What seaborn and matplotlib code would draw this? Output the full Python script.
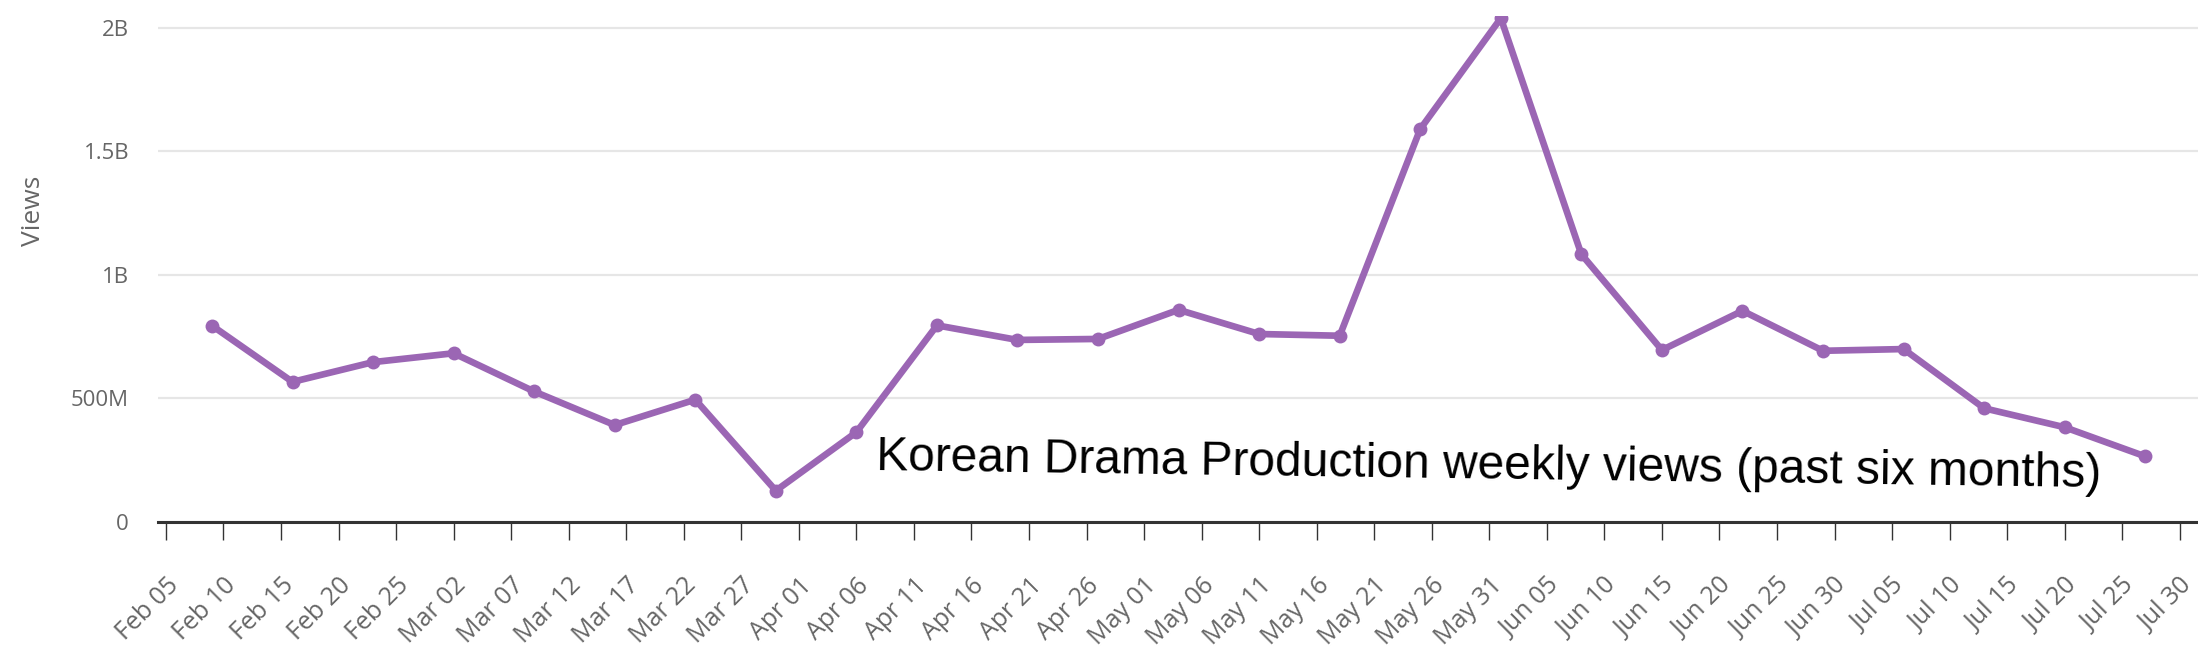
import numpy as np
import pandas as pd
import matplotlib
matplotlib.use("Agg")
import matplotlib.pyplot as plt
import matplotlib.dates as mdates
from matplotlib.ticker import FixedLocator
import seaborn as sns

# ---- data ----
week_dates = pd.date_range("2023-02-09", periods=25, freq="7D")
views_m = [794, 566, 646, 682, 527, 391, 494, 125, 362, 795, 736, 740, 858,
           760, 753, 1591, 2040, 1083, 695, 854, 692, 699, 459, 382, 264]
tick_dates = pd.date_range("2023-02-05", "2023-07-30", freq="5D")
y_ticks = [0, 500e6, 1e9, 1.5e9, 2e9]
y_tick_labels = ["0", "500M", "1B", "1.5B", "2B"]
annotation = "Korean Drama Production weekly views (past six months)"

df = pd.DataFrame({"date": week_dates, "views": np.array(views_m) * 1e6})

sns.set_theme(style="white")
plt.rcParams["font.family"] = ["Open Sans", "DejaVu Sans"]

fig = plt.figure(figsize=(21.98, 6.56), dpi=100)
ax = fig.add_axes([0.072, 0.205, 0.928, 0.771])

line_color = "#9b66b4"
sns.lineplot(data=df, x="date", y="views", ax=ax, color=line_color,
             linewidth=4.8, marker="o", markersize=10, markeredgewidth=0,
             markerfacecolor=line_color, zorder=3)

ax.set_ylim(0, 2.05e9)
ax.set_xlim(pd.Timestamp("2023-02-04 08:00"), pd.Timestamp("2023-07-31 14:00"))

ax.yaxis.set_major_locator(FixedLocator(y_ticks))
ax.set_yticklabels(y_tick_labels)
ax.xaxis.set_major_locator(FixedLocator(mdates.date2num(tick_dates)))
ax.xaxis.set_major_formatter(mdates.DateFormatter("%b %d"))

ax.grid(axis="y", color="#e6e6e6", linewidth=1.6)
ax.grid(axis="x", visible=False)
ax.set_axisbelow(True)

for s in ["top", "right", "left"]:
    ax.spines[s].set_visible(False)
ax.spines["bottom"].set_color("#333333")
ax.spines["bottom"].set_linewidth(2.2)
ax.spines["bottom"].set_zorder(4)

ax.tick_params(axis="y", length=0, pad=21, labelsize=16, labelcolor="#666666")
ax.tick_params(axis="x", length=13, width=1.0, color="#333333", pad=24,
               labelsize=18, labelcolor="#666666", direction="out", bottom=True)
for lab in ax.get_xticklabels():
    lab.set_rotation(45)
    lab.set_ha("right")
    lab.set_rotation_mode("anchor")

ax.set_xlabel("")
ax.set_ylabel("Views", fontsize=19, color="#666666")
ax.yaxis.set_label_coords(-0.055, 0.615)

fig.text(0.3987, 0.2835, annotation, fontsize=34.5, color="black",
         family=["Liberation Sans", "DejaVu Sans"], ha="left", va="baseline",
         rotation=-0.8, rotation_mode="anchor")

fig.savefig("out.png", dpi=100)
